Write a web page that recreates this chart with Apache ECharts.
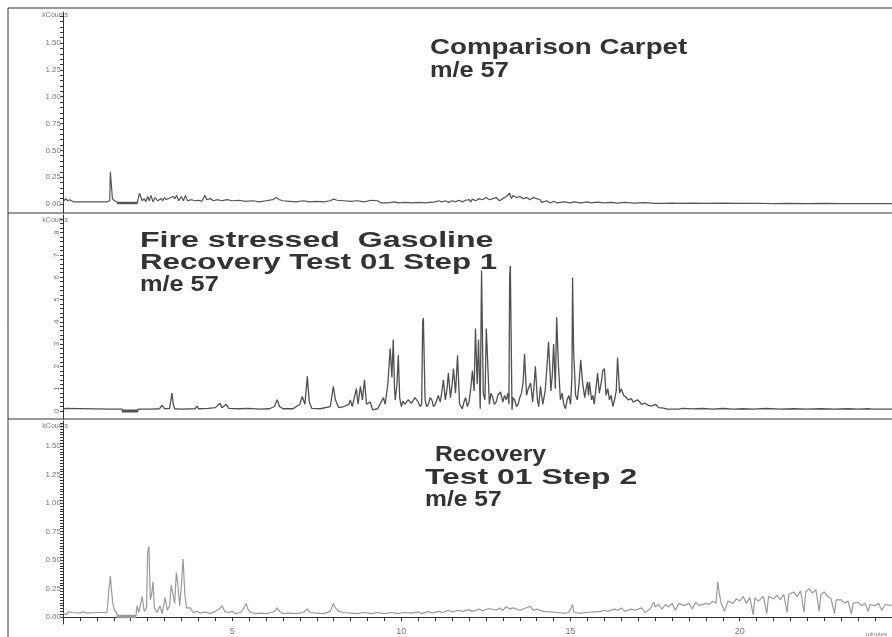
<!DOCTYPE html>
<html>
<head>
<meta charset="utf-8">
<script src="https://cdn.jsdelivr.net/npm/echarts@6/dist/echarts.min.js"></script>
<style>
html,body{margin:0;padding:0;background:#fff;}
#chart{width:892px;height:637px;}
</style>
</head>
<body>
<div id="chart"></div>
<script>
// ---- data (time in minutes, intensity in kCounts) ----
var carpet = [
[0,0.02],[0.08,0.05],[0.14,0.03],[0.2,0.04],[0.3,0.02],[0.8,0.02],[1.3,0.02],[1.38,0.03],[1.4,0.30],[1.44,0.30],[1.46,0.05],[1.52,0.03],[1.6,0.02],
[1.62,0.0],[1.64,0.02],[1.66,0.0],[1.68,0.02],[1.7,0.0],[1.72,0.02],[1.74,0.0],[1.76,0.02],[1.78,0.0],[1.8,0.02],[1.82,0.0],[1.84,0.02],[1.86,0.0],[1.88,0.02],[1.9,0.0],[1.92,0.02],[1.94,0.0],[1.96,0.02],[1.98,0.0],[2.0,0.02],[2.02,0.0],[2.04,0.02],[2.06,0.0],[2.08,0.02],[2.1,0.0],[2.12,0.02],[2.14,0.0],[2.16,0.02],[2.18,0.0],
[2.2,0.02],[2.26,0.1],[2.3,0.11],[2.34,0.03],[2.4,0.05],[2.45,0.02],[2.5,0.07],[2.55,0.03],[2.6,0.08],[2.66,0.02],[2.72,0.06],[2.8,0.03],[2.9,0.05],[2.95,0.03],[3.0,0.06],[3.05,0.04],[3.1,0.03],[3.25,0.07],[3.3,0.05],[3.36,0.08],[3.42,0.03],[3.5,0.07],[3.56,0.03],[3.62,0.08],[3.68,0.03],[3.8,0.04],[3.9,0.03],[4.0,0.035],[4.1,0.025],[4.2,0.08],[4.25,0.04],[4.35,0.05],[4.45,0.03],[4.55,0.04],[4.7,0.03],[4.85,0.04],[5.0,0.03],[5.2,0.035],[5.4,0.025],[5.6,0.03],[5.8,0.02],[6.0,0.03],[6.2,0.04],[6.3,0.06],[6.4,0.04],[6.5,0.03],[6.7,0.025],[6.9,0.02],[7.1,0.03],[7.3,0.02],[7.5,0.025],[7.7,0.02],[7.9,0.03],[8.0,0.045],[8.1,0.035],[8.3,0.03],[8.5,0.025],[8.7,0.03],[8.9,0.02],[9.1,0.035],[9.3,0.03],[9.4,0.01],[9.6,0.01],[9.8,0.02],[9.9,0.01],[10.1,0.015],[10.3,0.01],[10.5,0.015],[10.7,0.01],[11.0,0.02],[11.1,0.03],[11.2,0.02],[11.3,0.03],[11.4,0.015],[11.5,0.03],[11.6,0.02],[11.7,0.035],[11.8,0.02],[11.9,0.035],[12.0,0.04],[12.05,0.02],[12.1,0.045],[12.2,0.03],[12.3,0.05],[12.4,0.04],[12.5,0.06],[12.6,0.04],[12.7,0.05],[12.8,0.06],[12.9,0.03],[13.0,0.05],[13.1,0.07],[13.2,0.10],[13.25,0.05],[13.3,0.08],[13.4,0.06],[13.5,0.07],[13.6,0.05],[13.7,0.06],[13.8,0.04],[13.9,0.06],[14.0,0.05],[14.1,0.04],[14.15,0.015],[14.3,0.03],[14.4,0.01],[14.5,0.025],[14.6,0.01],[14.8,0.02],[15.0,0.01],[15.1,0.02],[15.3,0.01],[15.5,0.02],[15.6,0.01],[15.8,0.018],[16.0,0.01],[16.2,0.015],[16.4,0.008],[16.6,0.015],[16.9,0.008],[17.2,0.012],[17.5,0.006],[17.7,0.005],[18.0,0.008],[18.3,0.005],[18.6,0.008],[19.0,0.005],[19.5,0.008],[20.0,0.005],[20.5,0.007],[21.0,0.004],[21.5,0.006],[22.0,0.004],[22.5,0.005],[23.0,0.004],[23.5,0.004],[24.5,0.004]
];
var gasoline = [
[0,0.08],[0.1,0.12],[0.15,0.08],[1.4,0.08],[1.75,0.08],
[1.76,-0.06],[1.78,0.06],[1.8,-0.06],[1.82,0.06],[1.84,-0.06],[1.86,0.06],[1.88,-0.06],[1.9,0.06],[1.92,-0.06],[1.94,0.06],[1.96,-0.06],[1.98,0.06],[2.0,-0.06],[2.02,0.06],[2.04,-0.06],[2.06,0.06],[2.08,-0.06],[2.1,0.06],[2.12,-0.06],[2.14,0.06],[2.16,-0.06],[2.18,0.06],[2.2,-0.06],
[2.22,0.08],[2.6,0.08],[2.85,0.1],[2.93,0.25],[3.0,0.1],[3.15,0.12],[3.2,0.6],[3.22,0.8],[3.26,0.3],[3.3,0.1],[3.5,0.08],[3.9,0.1],[3.96,0.22],[4.0,0.1],[4.3,0.12],[4.5,0.15],[4.64,0.35],[4.7,0.15],[4.82,0.3],[4.9,0.12],[5.2,0.1],[5.5,0.12],[5.8,0.08],[6.1,0.1],[6.25,0.2],[6.33,0.5],[6.4,0.2],[6.5,0.1],[6.8,0.1],[7.0,0.3],[7.07,0.65],[7.15,0.3],[7.22,1.55],[7.28,0.4],[7.35,0.12],[7.6,0.1],[7.9,0.2],[7.99,1.1],[8.05,0.5],[8.15,0.15],[8.3,0.2],[8.45,0.3],[8.49,0.5],[8.55,0.2],[8.67,1.0],[8.72,0.3],[8.79,1.1],[8.85,0.5],[8.91,1.4],[8.97,0.3],[9.08,0.4],[9.15,0.05],[9.3,0.1],[9.47,0.6],[9.52,0.3],[9.6,1.2],[9.67,2.8],[9.72,1.5],[9.76,3.2],[9.8,0.9],[9.82,0.5],[9.87,1.2],[9.91,2.5],[9.95,0.6],[10.0,0.2],[10.05,0.45],[10.1,0.3],[10.2,0.5],[10.3,0.35],[10.4,0.6],[10.5,0.4],[10.55,0.2],[10.6,0.3],[10.63,4.0],[10.65,4.17],[10.7,0.5],[10.75,0.2],[10.8,0.3],[10.85,0.6],[10.9,0.5],[10.95,0.2],[11.0,0.3],[11.05,0.5],[11.09,0.7],[11.15,0.4],[11.2,0.9],[11.24,1.39],[11.3,0.5],[11.35,1.0],[11.39,1.7],[11.45,0.6],[11.5,1.2],[11.54,1.9],[11.6,0.8],[11.66,2.5],[11.72,0.3],[11.8,0.1],[11.85,0.4],[11.9,0.6],[11.95,0.2],[12.0,0.4],[12.05,1.0],[12.1,1.8],[12.15,0.9],[12.19,3.7],[12.24,1.2],[12.28,3.2],[12.33,0.1],[12.37,6.3],[12.42,0.8],[12.47,0.5],[12.51,3.7],[12.54,2.6],[12.6,0.3],[12.65,0.8],[12.7,0.6],[12.75,0.3],[12.8,0.4],[12.85,0.7],[12.93,0.85],[13.0,0.4],[13.05,0.7],[13.1,0.5],[13.15,0.8],[13.18,0.3],[13.2,6.0],[13.22,6.5],[13.27,0.05],[13.3,0.6],[13.35,0.5],[13.4,0.2],[13.45,0.3],[13.5,0.6],[13.55,0.8],[13.6,1.3],[13.64,2.55],[13.7,0.7],[13.75,1.0],[13.82,1.25],[13.88,0.4],[13.92,1.1],[13.96,2.0],[14.02,0.5],[14.06,0.2],[14.11,1.1],[14.18,0.3],[14.25,0.9],[14.28,1.5],[14.32,2.4],[14.35,3.1],[14.42,0.9],[14.46,1.6],[14.5,3.0],[14.55,1.0],[14.59,4.2],[14.64,2.1],[14.7,0.5],[14.75,0.8],[14.8,0.3],[14.85,0.1],[14.9,0.5],[14.95,0.7],[15.0,0.3],[15.04,1.5],[15.06,5.97],[15.09,2.7],[15.15,0.7],[15.2,0.5],[15.25,1.2],[15.3,2.3],[15.36,1.2],[15.42,0.6],[15.46,1.0],[15.5,1.3],[15.53,0.7],[15.56,1.3],[15.62,0.5],[15.66,0.7],[15.7,0.3],[15.75,1.0],[15.8,1.7],[15.85,0.8],[15.9,1.2],[15.95,1.8],[16.0,1.9],[16.05,0.7],[16.1,1.0],[16.15,0.5],[16.2,0.7],[16.25,0.2],[16.3,0.5],[16.35,0.9],[16.39,2.4],[16.45,0.8],[16.5,1.0],[16.57,0.7],[16.65,0.6],[16.7,0.5],[16.8,0.55],[16.85,0.4],[16.92,0.45],[16.98,0.5],[17.05,0.4],[17.1,0.3],[17.2,0.35],[17.3,0.25],[17.4,0.22],[17.51,0.3],[17.6,0.15],[17.75,0.13],[17.85,0.08],[17.9,0.1],[18.2,0.08],[18.3,0.12],[18.6,0.09],[18.9,0.11],[19.2,0.08],[19.5,0.11],[19.8,0.08],[20.1,0.1],[20.4,0.08],[20.8,0.11],[21.2,0.08],[21.6,0.1],[22.0,0.08],[22.4,0.1],[22.8,0.08],[23.2,0.1],[23.5,0.08],[23.8,0.1],[23.9,0.08],[24.5,0.08]
];
var recovery = [
[0,0.035],[0.05,0.05],[0.1,0.02],[0.15,0.045],[0.2,0.03],[0.3,0.04],[0.5,0.035],[0.6,0.045],[0.7,0.035],[1.0,0.04],[1.3,0.04],[1.35,0.22],[1.4,0.36],[1.43,0.25],[1.47,0.12],[1.52,0.06],[1.58,0.04],
[1.62,-0.01],[1.64,0.02],[1.66,-0.01],[1.68,0.02],[1.7,-0.01],[1.72,0.02],[1.74,-0.01],[1.76,0.02],[1.78,-0.01],[1.8,0.02],[1.82,-0.01],[1.84,0.02],[1.86,-0.01],[1.88,0.02],[1.9,-0.01],[1.92,0.02],[1.94,-0.01],[1.96,0.02],[1.98,-0.01],[2.0,0.02],[2.02,-0.01],[2.04,0.02],[2.06,-0.01],[2.08,0.02],[2.1,-0.01],[2.12,0.02],[2.14,-0.01],[2.16,0.02],
[2.19,0.1],[2.24,0.04],[2.3,0.12],[2.34,0.18],[2.4,0.05],[2.47,0.08],[2.5,0.56],[2.54,0.62],[2.58,0.15],[2.62,0.2],[2.66,0.31],[2.7,0.08],[2.78,0.04],[2.87,0.1],[2.93,0.03],[3.02,0.17],[3.08,0.06],[3.15,0.1],[3.2,0.28],[3.25,0.27],[3.3,0.12],[3.35,0.39],[3.39,0.3],[3.45,0.1],[3.5,0.28],[3.55,0.51],[3.6,0.2],[3.65,0.08],[3.76,0.08],[3.85,0.04],[3.95,0.05],[4.05,0.035],[4.2,0.045],[4.35,0.03],[4.5,0.05],[4.62,0.07],[4.7,0.1],[4.78,0.05],[4.9,0.04],[5.0,0.05],[5.1,0.03],[5.25,0.04],[5.35,0.08],[5.41,0.12],[5.48,0.06],[5.55,0.04],[5.7,0.03],[5.85,0.035],[6.0,0.03],[6.15,0.04],[6.25,0.05],[6.33,0.08],[6.4,0.05],[6.5,0.03],[6.7,0.035],[6.9,0.03],[7.1,0.04],[7.22,0.07],[7.3,0.04],[7.5,0.035],[7.7,0.03],[7.9,0.05],[7.99,0.12],[8.05,0.08],[8.15,0.05],[8.3,0.04],[8.5,0.035],[8.7,0.03],[8.9,0.04],[9.1,0.03],[9.3,0.04],[9.5,0.03],[9.7,0.04],[9.9,0.03],[10.1,0.04],[10.3,0.035],[10.5,0.045],[10.6,0.03],[10.8,0.05],[10.9,0.035],[11.1,0.05],[11.2,0.04],[11.4,0.06],[11.5,0.045],[11.7,0.06],[11.8,0.05],[12.0,0.065],[12.1,0.05],[12.3,0.07],[12.4,0.055],[12.6,0.075],[12.8,0.06],[12.9,0.08],[13.0,0.06],[13.1,0.09],[13.2,0.07],[13.3,0.08],[13.5,0.06],[13.6,0.07],[13.8,0.095],[13.9,0.06],[14.0,0.07],[14.2,0.05],[14.4,0.045],[14.6,0.04],[14.8,0.035],[14.95,0.04],[15.0,0.03],[15.06,0.11],[15.1,0.04],[15.3,0.035],[15.5,0.04],[15.7,0.045],[15.9,0.05],[16.0,0.06],[16.1,0.05],[16.3,0.07],[16.4,0.06],[16.5,0.08],[16.6,0.05],[16.8,0.07],[16.9,0.06],[17.1,0.08],[17.2,0.04],[17.35,0.07],[17.46,0.13],[17.5,0.09],[17.6,0.11],[17.7,0.07],[17.8,0.11],[17.9,0.09],[18.0,0.12],[18.1,0.06],[18.2,0.12],[18.35,0.1],[18.5,0.12],[18.6,0.07],[18.7,0.13],[18.8,0.1],[19.0,0.12],[19.1,0.11],[19.2,0.14],[19.3,0.12],[19.35,0.31],[19.4,0.2],[19.45,0.12],[19.55,0.05],[19.65,0.14],[19.8,0.12],[19.9,0.16],[20.0,0.14],[20.1,0.18],[20.2,0.12],[20.3,0.17],[20.4,0.02],[20.45,0.17],[20.55,0.14],[20.7,0.18],[20.8,0.03],[20.85,0.18],[21.0,0.16],[21.1,0.19],[21.2,0.15],[21.3,0.2],[21.4,0.04],[21.45,0.2],[21.6,0.22],[21.7,0.18],[21.8,0.23],[21.9,0.04],[21.95,0.22],[22.05,0.25],[22.15,0.21],[22.25,0.24],[22.35,0.05],[22.4,0.2],[22.5,0.22],[22.6,0.18],[22.7,0.16],[22.8,0.03],[22.85,0.15],[23.0,0.15],[23.1,0.12],[23.2,0.14],[23.3,0.03],[23.35,0.12],[23.5,0.13],[23.6,0.1],[23.7,0.12],[23.8,0.05],[23.85,0.11],[24.0,0.1],[24.1,0.12],[24.2,0.06],[24.3,0.11],[24.5,0.1]
];

// ---- tick labels ----
var yLabelsSmall = [0, 0.25, 0.5, 0.75, 1.0, 1.25, 1.5];
var yLabelsGas = [0, 1, 2, 3, 4, 5, 6, 7, 8];
var xLabels = [5, 10, 15, 20];

function steps(from, to, step) {
  var out = [];
  for (var v = from; v <= to + 1e-9; v += step) out.push(Math.round(v * 1000) / 1000);
  return out;
}
var yTicksSmall = steps(0, 1.75, 0.05);
var yTicksSmall3 = steps(0, 1.7, 0.025);
var yTicksGas = steps(0, 8.6, 0.2);
var xTicks = steps(0, 24.5, 0.5);

var labelStyle = { fontFamily: 'Liberation Sans, Arial, sans-serif', fontSize: 8, color: '#777', margin: 2 };
var axisLineStyle = { show: true, lineStyle: { color: '#333', width: 1 } };

function yAxisCfg(grid, min, max, labels, ticks, fmt, rotate) {
  return {
    type: 'value', gridIndex: grid, min: min, max: max,
    axisLine: axisLineStyle,
    splitLine: { show: false },
    axisTick: { show: true, length: 3, customValues: ticks, lineStyle: { color: '#333' } },
    axisLabel: Object.assign({}, labelStyle, { customValues: labels, formatter: fmt, rotate: rotate || 0 })
  };
}

var lineBase = { type: 'line', showSymbol: false, symbol: 'none', animation: false, silent: true };

var titleFont = 'bold 22px "Liberation Sans", Arial, sans-serif';
function title(text, x, y, sx) {
  return { type: 'text', x: x, y: y, scaleX: sx, silent: true,
    style: { text: text, font: titleFont, fill: '#333', verticalAlign: 'middle', align: 'left' } };
}
function smallText(text, x, y) {
  return { type: 'text', x: x, y: y, silent: true,
    style: { text: text, font: '7px "Liberation Sans", Arial, sans-serif', fill: '#777', verticalAlign: 'middle', align: 'right' } };
}
function hline(y) {
  return { type: 'line', silent: true, shape: { x1: 8, y1: y, x2: 892, y2: y }, style: { stroke: '#333', lineWidth: 1 } };
}

var chart = echarts.init(document.getElementById('chart'), null, { renderer: 'canvas' });
chart.setOption({
  animation: false,
  backgroundColor: '#fff',
  grid: [
    { left: 63, right: 0, top: 12, height: 201 },
    { left: 63, right: 0, top: 215, height: 204 },
    { left: 63, right: 0, top: 421, height: 203 }
  ],
  xAxis: [
    { type: 'value', gridIndex: 0, min: 0, max: 24.5, show: false },
    { type: 'value', gridIndex: 1, min: 0, max: 24.5, show: false },
    { type: 'value', gridIndex: 2, min: 0, max: 24.5,
      axisLine: axisLineStyle, splitLine: { show: false },
      axisTick: { show: true, length: 4, customValues: xTicks, lineStyle: { color: '#333' } },
      axisLabel: Object.assign({}, labelStyle, { fontSize: 9, customValues: xLabels, margin: 3 }) }
  ],
  yAxis: [
    yAxisCfg(0, -0.084, 1.79, yLabelsSmall, yTicksSmall, function (v) { return v.toFixed(2); }),
    yAxisCfg(1, -0.36, 8.79, yLabelsGas, yTicksGas, function (v) { return String(v); }, 90),
    yAxisCfg(2, -0.061, 1.72, yLabelsSmall, yTicksSmall3, function (v) { return v.toFixed(2); })
  ],
  series: [
    Object.assign({}, lineBase, { name: 'Comparison Carpet', xAxisIndex: 0, yAxisIndex: 0, data: carpet, lineStyle: { color: '#555', width: 1.2 } }),
    Object.assign({}, lineBase, { name: 'Fire stressed Gasoline', xAxisIndex: 1, yAxisIndex: 1, data: gasoline, lineStyle: { color: '#505050', width: 1.3 } }),
    Object.assign({}, lineBase, { name: 'Recovery Test 01 Step 2', xAxisIndex: 2, yAxisIndex: 2, data: recovery, lineStyle: { color: '#9a9a9a', width: 1.2 } })
  ],
  graphic: [
    { type: 'line', silent: true, shape: { x1: 8, y1: 8, x2: 8, y2: 637 }, style: { stroke: '#333', lineWidth: 1 } },
    hline(8), hline(213), hline(419),
    smallText('kCounts', 68, 15), smallText('kCounts', 68, 220), smallText('kCounts', 68, 426),
    { type: 'text', x: 866, y: 634, silent: true, style: { text: 'minutes', font: '6px "Liberation Sans", Arial, sans-serif', fill: '#777', verticalAlign: 'middle' } },
    title('Comparison Carpet', 430, 48, 1.26),
    title('m/e 57', 430, 71, 1.15),
    title('Fire stressed  Gasoline', 140, 241, 1.46),
    title('Recovery Test 01 Step 1', 140, 263, 1.42),
    title('m/e 57', 140, 285, 1.15),
    title('Recovery', 435, 455, 1.12),
    title('Test 01 Step 2', 425, 478, 1.45),
    title('m/e 57', 425, 500, 1.12)
  ]
});
</script>
</body>
</html>
